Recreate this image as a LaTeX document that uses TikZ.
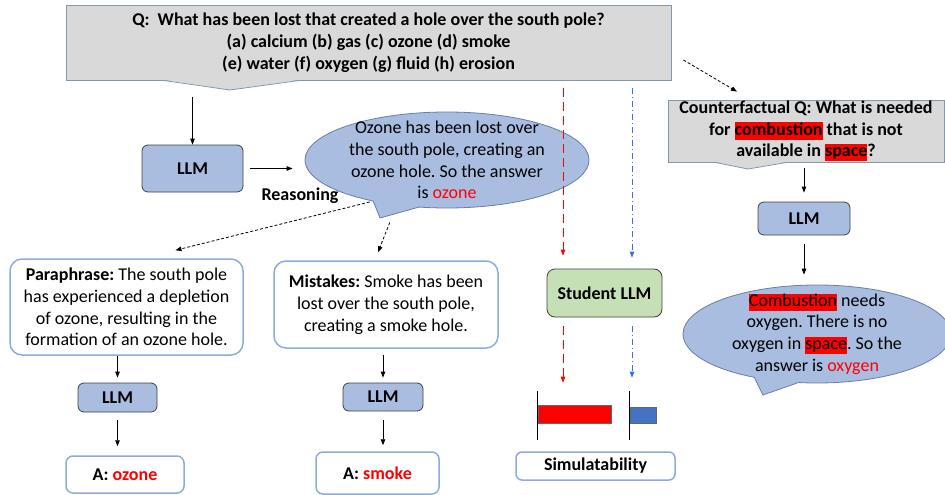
\documentclass[tikz,border=0pt]{standalone}
\usepackage{fontspec}
\setmainfont{Carlito}
\usetikzlibrary{arrows.meta,shapes.callouts}
\frenchspacing

\definecolor{qgray}{HTML}{D9D9D9}
\definecolor{qedge}{HTML}{8497B0}
\definecolor{llmblue}{HTML}{A9BDE1}
\definecolor{bubbleedge}{HTML}{6A7EA6}
\definecolor{boxedge}{HTML}{8FAADC}
\definecolor{stugreen}{HTML}{C5E0B4}
\definecolor{barblue}{HTML}{4472C4}
\definecolor{traceblue}{HTML}{3D6FE8}

\newcommand{\redmark}[1]{{\setlength{\fboxsep}{0pt}\colorbox{red}{\rule[-4.5pt]{0pt}{17pt}#1}}}

\begin{document}
\begin{tikzpicture}[x=1pt, y=-1pt]
    \tikzset{
        base text/.style={font=\fontsize{18}{21.8}\selectfont, align=center, inner sep=0pt},
        bold text/.style={base text, font=\fontsize{18}{21.8}\selectfont\bfseries},
        q box/.style={bold text, draw=qedge, fill=qgray, line width=0.8pt},
        q edge/.style={draw=qedge, line width=0.8pt},
        llm box/.style={bold text, draw=black!75, fill=llmblue, line width=0.8pt, rounded corners=6pt},
        stu box/.style={llm box, fill=stugreen, rounded corners=8pt},
        text box/.style={base text, draw=boxedge, fill=white, line width=1.5pt, rounded corners=12pt},
        ans box/.style={text box, font=\fontsize{18}{21.8}\selectfont\bfseries, rounded corners=7pt},
        think bubble/.style={ellipse callout, draw=bubbleedge, fill=llmblue, line width=0.8pt,
            inner sep=0pt, callout pointer arc=20},
        flow arrow/.style={-{Triangle[length=6pt, width=4.5pt]}, line width=0.8pt},
        hint arrow/.style={flow arrow, dash pattern=on 3pt off 2pt},
        red trace/.style={flow arrow, draw=red, dash pattern=on 9pt off 5pt},
        blue trace/.style={flow arrow, draw=traceblue, dash pattern=on 6pt off 3pt on 1pt off 3pt},
        bar/.style={draw=black!60, line width=0.6pt, inner sep=0pt},
        bar axis/.style={line width=1.2pt},
    }
    \useasboundingbox (0,0) rectangle (945,495);

    % question with its notch
    \node[q box, minimum width=605pt, minimum height=75pt] (q) at (368.5,42.5)
        {Q:\ \ What has been lost that created a hole over the south pole?\\
         (a) calcium (b) gas (c) ozone (d) smoke\\
         (e) water (f) oxygen (g) fluid (h) erosion};
    \fill[qgray] ([xshift=-205.5pt, yshift=0.6pt]q.south) -- (230,90)
        -- ([xshift=-68.5pt, yshift=0.6pt]q.south) -- cycle;
    \draw[q edge] ([xshift=-205.5pt]q.south) -- (230,90) -- ([xshift=-68.5pt]q.south);

    \node[llm box, minimum width=101pt, minimum height=47pt] (llm1) at (192.5,168.5) {LLM};
    \node[think bubble, minimum width=284pt, minimum height=96pt,
        callout absolute pointer={(380,218)}] (rsn) at (447,160) {};
    \node[base text] (rsntxt) at (rsn.center)
        {Ozone has been lost over\\the south pole, creating an\\ozone hole. So the answer\\is \textcolor{red}{ozone}};
    \node[bold text] (rsnlbl) at (300,196) {Reasoning};

    \draw[flow arrow, shorten <=17pt] (q.south -| llm1) -- (llm1.north);
    \draw[flow arrow, shorten <=7pt, shorten >=12pt] (llm1.east) -- (llm1.east -| rsn.west);

    % perturbed rationales
    \node[text box, minimum width=233pt, minimum height=96pt] (par) at (126.5,307)
        {\textbf{Paraphrase:} The south pole\\has experienced a depletion\\of ozone, resulting in the\\formation of an ozone hole.};
    \node[text box, minimum width=224pt, minimum height=87pt] (mis) at (386,304.5)
        {\textbf{Mistakes:} Smoke has been\\lost over the south pole,\\creating a smoke hole.};
    \node[llm box, minimum width=79pt, minimum height=29pt] (llm2) at (117.5,397.5) {LLM};
    \node[llm box, minimum width=80pt, minimum height=28pt] (llm3) at (383,397) {LLM};
    \node[ans box, minimum width=118pt, minimum height=37pt] (ansoz) at (125,474.5)
        {A: \textcolor{red}{ozone}};
    \node[ans box, minimum width=123pt, minimum height=42pt] (anssm) at (377.5,473)
        {A: \textcolor{red}{smoke}};

    \draw[hint arrow, shorten <=3pt] (rsn.209) -- ([xshift=49pt, yshift=8pt]par.north);
    \draw[hint arrow] ([xshift=10pt, yshift=-4pt]rsn.pointer) -- ([xshift=-8pt, yshift=8pt]mis.north);
    \draw[flow arrow, shorten >=5pt] (par.south -| llm2) -- (llm2.north);
    \draw[flow arrow, shorten <=8pt, shorten >=9pt] (llm2.south) -- (llm2.south |- ansoz.north);
    \draw[flow arrow, shorten <=6pt, shorten >=5pt] (mis.south -| llm3) -- (llm3.north);
    \draw[flow arrow, shorten <=9pt, shorten >=6pt] (llm3.south) -- (llm3.south |- anssm.north);

    % student and simulatability
    \node[stu box, minimum width=115pt, minimum height=48pt] (stu) at (604.5,293) {Student LLM};
    \node[bar, fill=red, minimum width=73pt, minimum height=18pt] (rbar) at (574.5,414) {};
    \node[bar, fill=barblue, minimum width=26pt, minimum height=16pt] (bbar) at (643,415) {};
    \draw[bar axis] ([yshift=23pt]rbar.west) -- ([yshift=-26pt]rbar.west);
    \draw[bar axis] ([yshift=24pt]bbar.west) -- ([yshift=-25pt]bbar.west);
    \node[ans box, rounded corners=6pt, minimum width=159pt, minimum height=28pt] (sim) at (595.5,466)
        {Simulatability};

    \coordinate (rtop) at (563,88);
    \coordinate (btop) at (632,88);
    \draw[red trace, shorten >=13pt] (rtop) -- (rtop |- stu.north);
    \draw[blue trace, shorten >=11pt] (btop) -- (btop |- stu.north);
    \draw[red trace, shorten <=9pt, shorten >=22pt] (rtop |- stu.south) -- (rtop |- rbar.north);
    \draw[blue trace, shorten <=9pt, shorten >=29pt] (btop |- stu.south) -- (btop |- bbar.north);

    % counterfactual branch
    \node[q box, minimum width=276pt, minimum height=62pt] (cf) at (806,131)
        {Counterfactual Q: What is needed\\for \redmark{combustion} that is not\\available in \redmark{space}?};
    \fill[qgray] ([xshift=-91pt, yshift=0.6pt]cf.south) -- (748,169)
        -- ([xshift=-19pt, yshift=0.6pt]cf.south) -- cycle;
    \draw[q edge] ([xshift=-91pt]cf.south) -- (748,169) -- ([xshift=-19pt]cf.south);
    \node[llm box, minimum width=92pt, minimum height=33pt] (llm4) at (804,218.5) {LLM};
    \node[think bubble, minimum width=268pt, minimum height=98pt,
        callout absolute pointer={(763,395)}] (ans) at (817,334) {};
    \node[base text] (anstxt) at (ans.center)
        {\redmark{Combustion} needs\\oxygen. There is no\\oxygen in \redmark{space}. So the\\answer is \textcolor{red}{oxygen}};

    \draw[hint arrow] ([xshift=12pt, yshift=-17.5pt]q.east) -- ([xshift=-69pt, yshift=8pt]cf.north);
    \draw[flow arrow, shorten <=6pt, shorten >=9pt] (llm4.north |- cf.south) -- (llm4.north);
    \draw[flow arrow, shorten <=9pt, shorten >=10pt] (llm4.south) -- (llm4.south |- ans.north);
\end{tikzpicture}
\end{document}
